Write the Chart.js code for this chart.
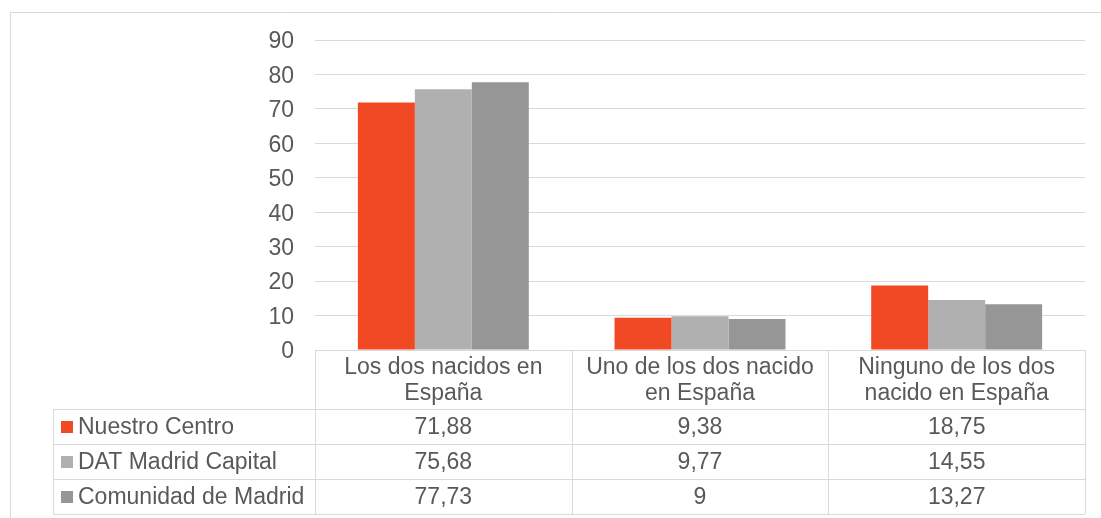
<!DOCTYPE html>
<html>
<head>
<meta charset="utf-8">
<script src="https://cdn.jsdelivr.net/npm/chart.js@4.4.1/dist/chart.umd.min.js"></script>
<style>
  html, body { margin: 0; padding: 0; background: #fff; }
</style>
</head>
<body>
<canvas id="chart" width="1101" height="518"></canvas>
<script>
const categories = [
  ["Los dos nacidos en", "España"],
  ["Uno de los dos nacido", "en España"],
  ["Ninguno de los dos", "nacido en España"]
];
const seriesNames = ["Nuestro Centro", "DAT Madrid Capital", "Comunidad de Madrid"];
const nuestroCentro = [71.88, 9.38, 18.75];
const datMadridCapital = [75.68, 9.77, 14.55];
const comunidadMadrid = [77.73, 9, 13.27];
const yTicks = [0, 10, 20, 30, 40, 50, 60, 70, 80, 90];

const seriesValues = [nuestroCentro, datMadridCapital, comunidadMadrid];
const seriesColors = ["#F04923", "#B0B0B0", "#969696"];
const textColor = "#595959";
const lineColor = "#D9D9D9";
const fontFamily = "'Liberation Sans', Arial, sans-serif";
const fontSize = 23;

// number as shown in the table: 71.88 -> "71,88"
function fmt(v) {
  return String(v).replace(".", ",");
}

// table under the plot + outer frame
const dataTable = {
  id: "dataTable",
  afterDraw(chart) {
    const ctx = chart.ctx;
    const x = chart.scales.x;
    const area = chart.chartArea;
    const step = x.getPixelForValue(1) - x.getPixelForValue(0);
    const edges = [Math.round(x.getPixelForValue(0) - step / 2)];
    categories.forEach((c, i) => edges.push(Math.round(x.getPixelForValue(i) + step / 2)));

    const headTop = Math.round(area.bottom);
    const headBottom = headTop + 59;
    const rowH = 35;
    const legendLeft = 53;
    const tableBottom = headBottom + rowH * seriesNames.length;

    ctx.save();
    ctx.strokeStyle = lineColor;
    ctx.lineWidth = 1;
    ctx.beginPath();
    // header top
    ctx.moveTo(edges[0], headTop + 0.5);
    ctx.lineTo(edges[edges.length - 1], headTop + 0.5);
    // row lines
    for (let r = 0; r <= seriesNames.length; r++) {
      const y = headBottom + r * rowH + 0.5;
      ctx.moveTo(legendLeft, y);
      ctx.lineTo(edges[edges.length - 1], y);
    }
    // verticals
    ctx.moveTo(legendLeft + 0.5, headBottom);
    ctx.lineTo(legendLeft + 0.5, tableBottom);
    edges.forEach(e => {
      ctx.moveTo(e + 0.5, headTop);
      ctx.lineTo(e + 0.5, tableBottom);
    });
    // outer chart frame
    ctx.rect(10.5, 12.5, 1200, 600);
    ctx.stroke();

    ctx.font = fontSize + "px " + fontFamily;
    ctx.fillStyle = textColor;
    ctx.textBaseline = "middle";
    ctx.textAlign = "center";

    // header labels
    const headMid = (headTop + headBottom) / 2;
    categories.forEach((lines, i) => {
      const cx = x.getPixelForValue(i);
      const lh = 26.5;
      const y0 = headMid - (lines.length - 1) * lh / 2;
      lines.forEach((t, k) => ctx.fillText(t, cx, y0 + k * lh + 1));
    });

    // rows
    seriesNames.forEach((name, r) => {
      const cy = headBottom + r * rowH + rowH / 2 + 1;
      ctx.fillStyle = seriesColors[r];
      ctx.fillRect(61, Math.round(cy - 6.5), 12, 12);
      ctx.fillStyle = textColor;
      ctx.textAlign = "left";
      ctx.fillText(name, 78, cy);
      ctx.textAlign = "center";
      seriesValues[r].forEach((v, i) => {
        ctx.fillText(fmt(v), x.getPixelForValue(i), cy);
      });
    });
    ctx.restore();
  }
};

new Chart(document.getElementById("chart"), {
  type: "bar",
  data: {
    labels: categories,
    datasets: seriesNames.map((name, i) => ({
      label: name,
      data: seriesValues[i],
      backgroundColor: seriesColors[i],
      borderWidth: 0,
      categoryPercentage: 0.666,
      barPercentage: 1
    }))
  },
  options: {
    responsive: false,
    animation: false,
    layout: { padding: { left: 0, right: 16, top: 40, bottom: 168 } },
    plugins: {
      legend: { display: false },
      tooltip: { enabled: false }
    },
    scales: {
      x: { display: false },
      y: {
        min: yTicks[0],
        max: yTicks[yTicks.length - 1],
        afterFit(scale) { scale.width = 315; },
        afterBuildTicks(scale) { scale.ticks = yTicks.map(v => ({ value: v })); },
        border: { display: false },
        grid: { color: lineColor, lineWidth: 1, drawTicks: false },
        ticks: {
          padding: 21,
          labelOffset: 2,
          color: textColor,
          font: { family: fontFamily, size: fontSize }
        }
      }
    }
  },
  plugins: [dataTable]
});
</script>
</body>
</html>
